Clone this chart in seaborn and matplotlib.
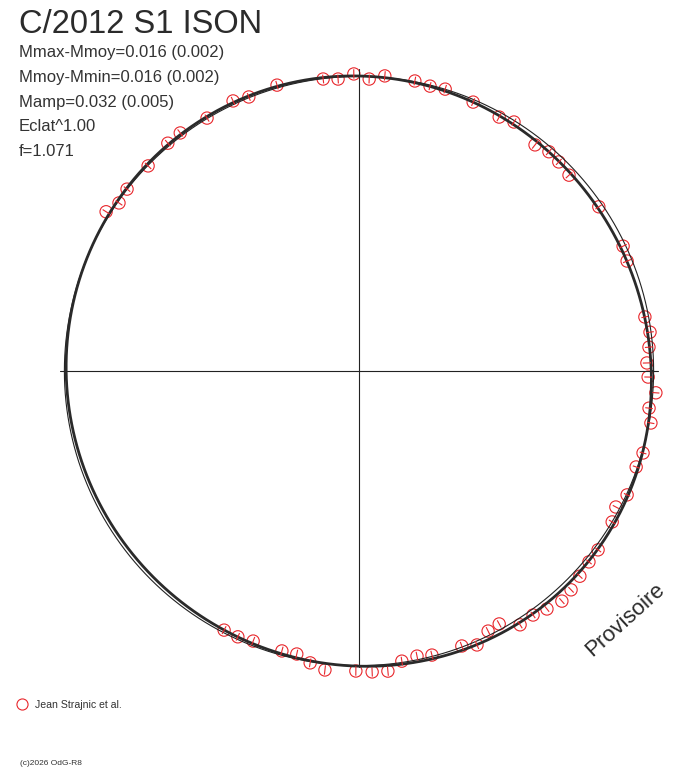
import numpy as np
import pandas as pd
import matplotlib
matplotlib.use('Agg')
import matplotlib.pyplot as plt
from matplotlib.collections import LineCollection
import seaborn as sns

sns.set_style('white')
plt.rcParams['font.family'] = ['Liberation Sans', 'DejaVu Sans']

title = 'C/2012 S1 ISON'
stats = ['Mmax-Mmoy=0.016 (0.002)', 'Mmoy-Mmin=0.016 (0.002)',
         'Mamp=0.032 (0.005)', 'Eclat^1.00', 'f=1.071']
observer = 'Jean Strajnic et al.'
credit = '(c)2026 OdG-R8'
stamp = 'Provisoire'

# polar angle of each measure (deg, counter-clockwise from +x) and relative radius
angle = [147.8, 145.0, 141.9, 135.8, 130.0, 126.9, 121.0, 115.0, 111.9, 106.0,
         97.0, 94.1, 91.0, 88.0, 85.0, 79.1, 76.0, 73.0, 67.0, 61.1,
         58.1, 52.1, 49.1, 46.3, 43.0, 34.4, 25.3, 22.3, 10.7, 7.6,
         4.7, 1.6, -1.2, -4.2, -7.3, -10.1, -16.1, -19.1, -24.8, -27.9,
         -30.8, -36.8, -39.7, -42.9, -45.9, -48.6, -51.7, -54.5, -57.6, -61.0,
         -63.6, -66.7, -69.5, -75.6, -78.5, -81.6, -84.5, -87.5, -90.6, -96.5,
         -99.5, -102.4, -105.4, -111.4, -114.5, -117.5]
radius = [1.020, 1.000, 1.006, 1.004, 1.015, 1.016, 1.007, 1.017, 1.008, 1.015,
          1.004, 0.999, 1.014, 0.997, 1.011, 1.008, 1.002, 1.006, 0.997, 0.990,
          1.001, 0.978, 0.990, 0.987, 0.980, 0.992, 0.997, 0.989, 0.993, 1.002,
          0.993, 0.983, 0.987, 1.016, 0.998, 1.012, 1.009, 1.001, 1.008, 0.992,
          1.006, 1.019, 1.020, 1.029, 1.040, 1.047, 1.035, 1.023, 1.026, 0.987,
          0.991, 1.018, 1.002, 1.001, 0.993, 1.001, 1.029, 1.028, 1.024, 1.027,
          1.010, 0.989, 0.991, 0.990, 0.997, 0.997]
err = [0.014, 0.014, 0.014, 0.015, 0.014, 0.015, 0.014, 0.015, 0.014, 0.015,
       0.015, 0.015, 0.016, 0.015, 0.016, 0.015, 0.014, 0.015, 0.014, 0.016,
       0.014, 0.016, 0.015, 0.014, 0.015, 0.014, 0.014, 0.015, 0.012, 0.013,
       0.014, 0.014, 0.013, 0.012, 0.013, 0.012, 0.012, 0.012, 0.012, 0.012,
       0.013, 0.013, 0.012, 0.012, 0.013, 0.013, 0.012, 0.013, 0.014, 0.014,
       0.015, 0.015, 0.015, 0.015, 0.015, 0.015, 0.016, 0.016, 0.016, 0.016,
       0.015, 0.015, 0.015, 0.015, 0.014, 0.015]

W, H = 688, 768
cx, cy, R = 359, 371, 293   # centre and unit radius in pixels

th = np.radians(angle)
rad = np.array(radius)
e = np.array(err)
pts = pd.DataFrame({'x': rad * np.cos(th), 'y': rad * np.sin(th)})


def fourier_fit(order):
    def design(t):
        cols = [np.ones_like(t)]
        for k in range(1, order + 1):
            cols += [np.cos(k * t), np.sin(k * t)]
        return np.column_stack(cols)
    coef, *_ = np.linalg.lstsq(design(th), rad, rcond=None)
    t = np.linspace(0, 2 * np.pi, 721)
    r = design(t) @ coef
    return pd.DataFrame({'x': r * np.cos(t), 'y': r * np.sin(t)})


fig = plt.figure(figsize=(W / 100, H / 100), dpi=100)
ax = fig.add_axes([0, 0, 1, 1])
ax.set_xlim(-cx / R, (W - cx) / R)
ax.set_ylim(-(H - cy) / R, cy / R)
ax.axis('off')

# cross
ax.plot([-1.02, 1.02], [0, 0], color='#222222', lw=0.8)
ax.plot([0, 0], [-1.01, 1.03], color='#222222', lw=0.8)

# mean level (thin circle) and Fourier fit (thick)
sns.lineplot(data=fourier_fit(0), x='x', y='y', sort=False, estimator=None,
             color='#222222', lw=0.8, ax=ax)
sns.lineplot(data=fourier_fit(3), x='x', y='y', sort=False, estimator=None,
             color='#2a2a2a', lw=2.0, ax=ax)

# radial error bars
segs = [[((r - s) * np.cos(t), (r - s) * np.sin(t)),
         ((r + s) * np.cos(t), (r + s) * np.sin(t))] for r, s, t in zip(rad, e, th)]
ax.add_collection(LineCollection(segs, colors='#e8262b', linewidths=0.8))

sns.scatterplot(data=pts, x='x', y='y', marker='o', s=78, facecolor='none',
                edgecolor='#e8262b', linewidth=0.8, ax=ax)

# texts
fig.text(19 / W, 1 - 33 / H, title, fontsize=23.5, color='#2b2b2b', va='baseline')
for i, s in enumerate(stats):
    fig.text(19 / W, 1 - (57 + 24.8 * i) / H, s, fontsize=12, color='#333333', va='baseline')

fig.text(625 / W, 1 - 620 / H, stamp, fontsize=16, color='#2b2b2b', rotation=42,
         ha='center', va='center', rotation_mode='anchor')

fig.add_artist(plt.Line2D([22 / W], [1 - 704 / H], marker='o', markersize=8,
                          markerfacecolor='none', markeredgecolor='#e8262b',
                          markeredgewidth=0.8, transform=fig.transFigure))
fig.text(35 / W, 1 - 708 / H, observer, fontsize=7.6, color='#333333', va='baseline')
fig.text(20 / W, 1 - 765 / H, credit, fontsize=6, color='#333333', va='baseline')

fig.savefig('out.png', dpi=100, facecolor='white')
